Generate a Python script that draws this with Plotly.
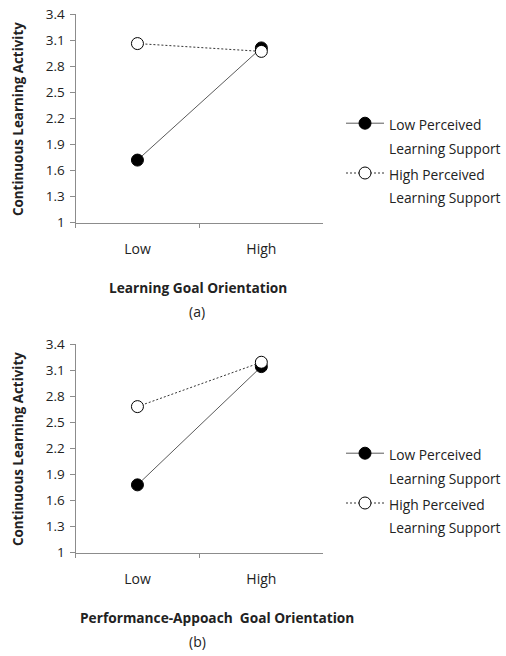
import plotly.graph_objects as go

categories = ["Low", "High"]
a_low_support = [1.72, 3.01]
a_high_support = [3.06, 2.97]
b_low_support = [1.78, 3.14]
b_high_support = [2.68, 3.19]
y_ticks = [1, 1.3, 1.6, 1.9, 2.2, 2.5, 2.8, 3.1, 3.4]
y_ticktext = ["1", "1.3", "1.6", "1.9", "2.2", "2.5", "2.8", "3.1", "3.4"]
series_names = [("Low Perceived", "Learning Support"), ("High Perceived", "Learning Support")]

FONT = "Open Sans"
W, H = 506, 656
LEG_TXT = 13.8


def leg_name(pair):
    return "<br>".join("<span style='font-size:%gpx'>%s</span>" % (LEG_TXT, s) for s in pair)


fig = go.Figure()


def add_pair(low_vals, high_vals, xa, ya, leg):
    fig.add_trace(go.Scatter(
        x=categories, y=low_vals, name=leg_name(series_names[0]), mode="lines+markers",
        line=dict(color="#5a5a5a", width=1),
        marker=dict(symbol="circle", size=12, color="black", line=dict(color="black", width=1)),
        xaxis=xa, yaxis=ya, legend=leg, legendgroup=leg + "a"))
    fig.add_trace(go.Scatter(
        x=categories, y=high_vals, name=leg_name(series_names[1]), mode="lines+markers",
        line=dict(color="#333333", width=1, dash="2px,2px"),
        marker=dict(symbol="circle", size=12, color="white", line=dict(color="black", width=1)),
        xaxis=xa, yaxis=ya, legend=leg, legendgroup=leg + "b"))


add_pair(a_low_support, a_high_support, "x", "y", "legend")
add_pair(b_low_support, b_high_support, "x2", "y2", "legend2")

xdom = [75.5 / W, 323.3 / W]
ydom_a = [1 - 222.7 / H, 1 - 14 / H]
ydom_b = [1 - 552.7 / H, 1 - 344 / H]

xcommon = dict(domain=xdom, type="category", range=[-0.5, 1.5], tickson="boundaries",
               showline=True, linecolor="#8c8c8c", linewidth=1, ticks="outside", ticklen=4,
               tickcolor="#8c8c8c", showgrid=False, zeroline=False,
               tickfont=dict(family=FONT, size=14, color="#222"), ticklabelstandoff=13)
ycommon = dict(range=[1, 3.4], tickvals=y_ticks, ticktext=y_ticktext,
               showline=True, linecolor="#8c8c8c", linewidth=1, ticks="outside", ticklen=5,
               tickcolor="#8c8c8c", showgrid=False, zeroline=False,
               tickfont=dict(family=FONT, size=13.5, color="#222"), ticklabelstandoff=2)

legcommon = dict(xanchor="left", yanchor="top", valign="top",
                 font=dict(family=FONT, size=18, color="#222"), bgcolor="rgba(0,0,0,0)",
                 tracegroupgap=0, itemwidth=38)

fig.update_layout(
    width=W, height=H, margin=dict(l=0, r=0, t=0, b=0, autoexpand=False),
    paper_bgcolor="white", plot_bgcolor="white",
    xaxis=dict(anchor="y", **xcommon),
    yaxis=dict(domain=ydom_a, anchor="x", **ycommon),
    xaxis2=dict(anchor="y2", **xcommon),
    yaxis2=dict(domain=ydom_b, anchor="x2", **ycommon),
    legend=dict(x=341 / W, y=1 - 105 / H, **legcommon),
    legend2=dict(x=341 / W, y=1 - 435 / H, **legcommon),
    showlegend=True,
)


def ann(text, x, y, size=13, bold=False, angle=0):
    fig.add_annotation(text=("<b>%s</b>" % text) if bold else text, x=x / W, y=1 - y / H,
                       xref="paper", yref="paper", showarrow=False, textangle=angle,
                       font=dict(family=FONT, size=size, color="#222"),
                       xanchor="center", yanchor="middle")


ann("Continuous Learning Activity", 18, 119, size=13.4, bold=True, angle=-90)
ann("Continuous Learning Activity", 18, 449, size=13.4, bold=True, angle=-90)
ann("Learning Goal Orientation", 198, 287, size=13.7, bold=True)
ann("(a)", 197, 311, size=14)
ann("Performance-Appoach\u00a0\u00a0Goal Orientation", 217, 617, size=13.7, bold=True)
ann("(b)", 197, 641, size=14)

fig.write_html("out.html", config={"displayModeBar": False},
               post_script="document.body.style.margin='0';")
